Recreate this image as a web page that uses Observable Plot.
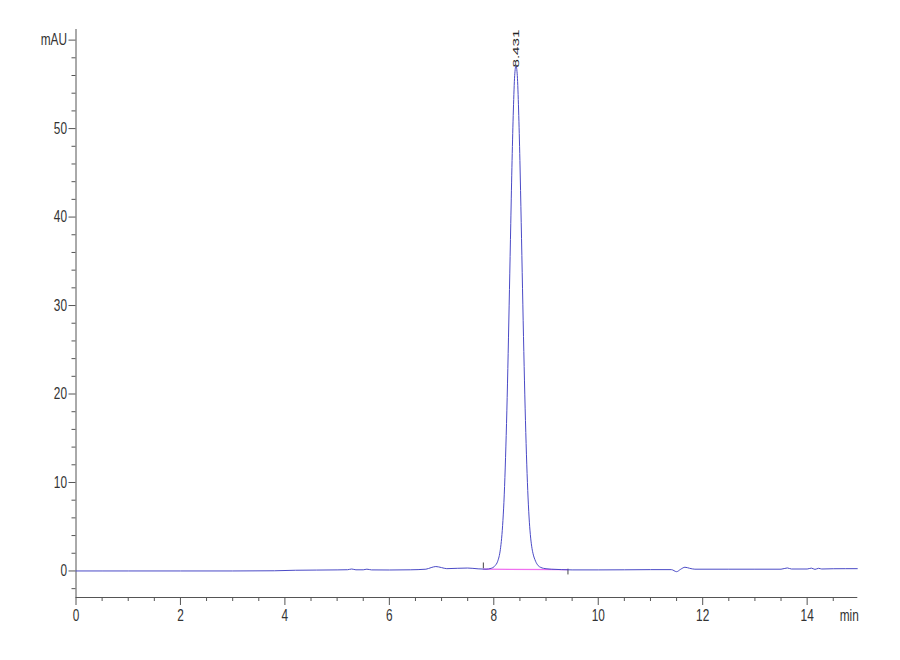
<!DOCTYPE html>
<html><head><meta charset="utf-8">
<script src="https://cdn.jsdelivr.net/npm/d3@7"></script>
<script src="https://cdn.jsdelivr.net/npm/@observablehq/plot@0.6"></script>
<style>
body{margin:0;background:#fff} svg{display:block}
</style>
</head><body><div id="chart"></div>
<script>
// Chromatogram signal (min, mAU)
const time = [0, 1, 2, 3, 3.8, 4.2, 4.6, 5.0, 5.2, 5.28, 5.36, 5.5, 5.57, 5.66, 6.0, 6.4, 6.7, 6.8, 6.89, 7.0, 7.1, 7.3, 7.5, 7.7, 7.85, 7.95,
  8.025, 8.075, 8.125, 8.15, 8.175, 8.2, 8.225, 8.25, 8.275, 8.3, 8.325, 8.35, 8.375, 8.4, 8.425,
  8.45, 8.475, 8.5, 8.525, 8.55, 8.575, 8.6, 8.625, 8.65, 8.675, 8.7, 8.725, 8.75, 8.8, 8.85, 8.9, 8.95, 9.0, 9.1,
  9.3, 9.5, 10, 10.5, 11, 11.4, 11.5, 11.58, 11.66, 11.75, 11.85, 12.5, 13, 13.5, 13.62, 13.7, 14.0, 14.08, 14.15, 14.22, 14.28, 14.5, 14.96];
const mAU = [0, 0, 0, 0, 0.02, 0.08, 0.1, 0.12, 0.14, 0.22, 0.13, 0.13, 0.2, 0.12, 0.11, 0.13, 0.2, 0.38, 0.5, 0.38, 0.26, 0.3, 0.33, 0.24, 0.2, 0.3,
  0.6, 1.1, 2.4, 3.7, 5.7, 8.6, 12.8, 18.1, 24.6, 31.8, 39.3, 46.4, 52.1, 56.0, 57.1,
  56.0, 52.1, 46.4, 39.4, 31.9, 24.8, 18.4, 13.2, 9.1, 6.1, 4.1, 2.8, 2.0, 1.1, 0.6, 0.4, 0.3, 0.25, 0.2,
  0.15, 0.12, 0.12, 0.13, 0.15, 0.15, -0.08, 0.2, 0.42, 0.3, 0.2, 0.2, 0.2, 0.2, 0.34, 0.22, 0.22, 0.32, 0.18, 0.3, 0.22, 0.25, 0.26];

// Integration baseline and peak start/end markers
const baseTime = [7.8, 9.42];
const baseValue = [0.2, 0.15];
const markerTime = [7.8, 9.42];
const markerFrom = [0.25, 0.2];
const markerTo = [0.9, -0.45];

// Peak annotation
const peakTime = [8.431];
const peakValue = [56.9];
const peakLabel = ["8.431"];

// Axis ticks
const yMajor = [0, 10, 20, 30, 40, 50, 60];
const yMinor = [-2, 2, 4, 6, 8, 12, 14, 16, 18, 22, 24, 26, 28, 32, 34, 36, 38, 42, 44, 46, 48, 52, 54, 56, 58];
const xMajor = [0, 2, 4, 6, 8, 10, 12, 14];
const xMinor = [0.5, 1, 1.5, 2.5, 3, 3.5, 4.5, 5, 5.5, 6.5, 7, 7.5, 8.5, 9, 9.5, 10.5, 11, 11.5, 12.5, 13, 13.5, 14.5];
const xDomain = [0, 14.97];
const yDomain = [-3, 61.2];

const signal = time.map((t, i) => ({t, v: mAU[i]}));
const base = baseTime.map((t, i) => ({t, v: baseValue[i]}));
const markers = markerTime.map((t, i) => ({t, y1: markerFrom[i], y2: markerTo[i]}));
const peaks = peakTime.map((t, i) => ({t, v: peakValue[i], label: peakLabel[i]}));

const axisColor = "#555";
const chart = Plot.plot({
  width: 900, height: 660,
  marginLeft: 75.5, marginRight: 42.7, marginTop: 29, marginBottom: 63,
  x: {domain: xDomain},
  y: {domain: yDomain},
  style: {fontFamily: "'Liberation Sans', Arial, sans-serif", fontSize: "16px", color: "#333", background: "#fff"},
  marks: [
    Plot.ruleX([0], {y1: yDomain[0], y2: yDomain[1], stroke: axisColor}),
    Plot.ruleY([yDomain[0]], {x1: xDomain[0], x2: xDomain[1], stroke: axisColor}),
    Plot.axisY(yMajor, {tickSize: 7, tickPadding: 2, stroke: axisColor, label: null, className: "ymaj", tickFormat: d => d === 60 ? "mAU" : String(d)}),
    Plot.axisY(yMinor, {tickSize: 4, stroke: axisColor, label: null, tickFormat: () => ""}),
    Plot.axisX(xMajor, {tickSize: 8, tickPadding: 4, stroke: axisColor, label: null, className: "xmaj", tickFormat: d => String(d)}),
    Plot.axisX(xMinor, {tickSize: 4, stroke: axisColor, label: null, tickFormat: () => ""}),
    Plot.text(["min"], {x: xDomain[1], y: yDomain[0], textAnchor: "end", lineAnchor: "top", dy: 12, dx: 1, fill: "#333", className: "minlabel"}),
    Plot.line(base, {x: "t", y: "v", stroke: "#f070f0", strokeWidth: 1.2}),
    Plot.ruleX(markers, {x: "t", y1: "y1", y2: "y2", stroke: "#444", strokeWidth: 1}),
    Plot.line(signal, {x: "t", y: "v", stroke: "#4a4ac6", strokeWidth: 1, curve: "monotone-x"}),
    Plot.text(peaks, {x: "t", y: "v", text: "label", rotate: -90, textAnchor: "start", fontSize: 9.5, fill: "#222", className: "peaklabel"})
  ]
});
document.getElementById("chart").appendChild(chart);
chart.querySelectorAll(".peaklabel text").forEach(t => {
  t.setAttribute("textLength", "38");
  t.setAttribute("lengthAdjust", "spacingAndGlyphs");
});
// condensed look of the original axis lettering
chart.querySelectorAll(".ymaj text, .xmaj text, .minlabel text").forEach(t => {
  const tr = t.getAttribute("transform") || "";
  t.setAttribute("transform", (tr + " scale(0.74,1)").trim());
});
</script>
</body></html>
